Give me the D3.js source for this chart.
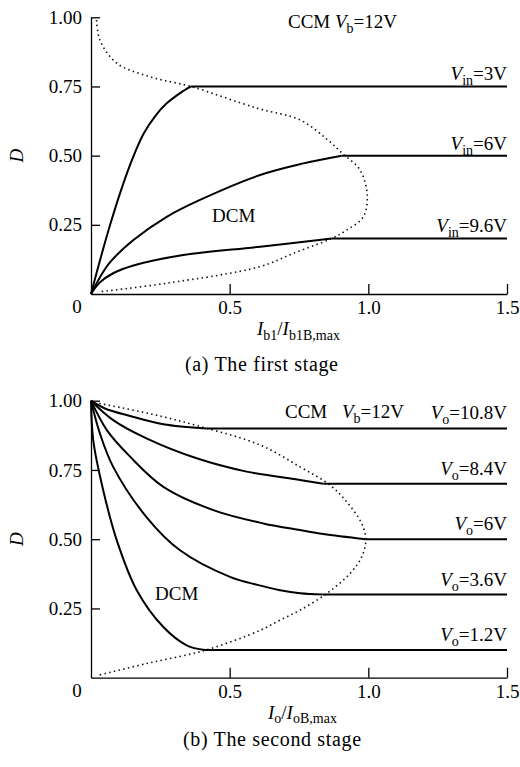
<!DOCTYPE html>
<html>
<head>
<meta charset="utf-8">
<script src="https://cdn.jsdelivr.net/npm/d3@7"></script>
<style>
body { margin: 0; background: #fff; }
svg { font-family: "Liberation Serif", "Times New Roman", serif; }
</style>
</head>
<body>
<svg id="chart" width="520" height="767"></svg>
<script>
// tick values
var xTicks = [0.5, 1.0, 1.5];
var yTicks = [0.25, 0.5, 0.75, 1.0];

// (a) first stage: D vs Ib1/Ib1B,max, curved DCM part then flat CCM level
var vin3 = [[0,0],[0.032,0.12],[0.069,0.25],[0.11,0.38],[0.15,0.49],[0.19,0.58],[0.233,0.645],[0.273,0.689],[0.32,0.725],[0.36,0.75]];
var vin6 = [[0,0],[0.032,0.06],[0.069,0.115],[0.153,0.195],[0.273,0.279],[0.393,0.34],[0.61,0.43],[0.766,0.472],[0.904,0.5]];
var vin96 = [[0,0],[0.032,0.042],[0.08,0.075],[0.153,0.103],[0.333,0.141],[0.61,0.171],[0.868,0.201]];
var vinNames = ["3V", "6V", "9.6V"];
var boundA = [[0.02,0.99],[0.032,0.918],[0.093,0.834],[0.213,0.785],[0.36,0.75],[0.6,0.671],[0.754,0.629],
              [0.85,0.56],[0.91,0.505],[0.97,0.448],[0.996,0.358],[0.982,0.279],[0.922,0.231],[0.868,0.201],
              [0.73,0.147],[0.61,0.099],[0.273,0.039],[0.03,0.008]];

// (b) second stage: D vs Io/IoB,max
var vo108 = [[0,1],[0.05,0.972],[0.141,0.945],[0.261,0.915],[0.417,0.9]];
var vo84 = [[0,1],[0.08,0.93],[0.2,0.864],[0.381,0.792],[0.561,0.744],[0.754,0.714],[0.838,0.7]];
var vo6 = [[0,1],[0.057,0.894],[0.141,0.798],[0.261,0.689],[0.441,0.605],[0.621,0.557],[0.754,0.533],[0.838,0.519],[0.991,0.5]];
var vo36 = [[0,1],[0.032,0.882],[0.08,0.761],[0.2,0.58],[0.321,0.46],[0.501,0.364],[0.6,0.335],[0.682,0.316],[0.754,0.305],[0.835,0.3]];
var vo12 = [[0,1],[0.008,0.858],[0.044,0.677],[0.093,0.496],[0.165,0.316],[0.261,0.183],[0.345,0.117],[0.411,0.1]];
var voNames = ["10.8V", "8.4V", "6V", "3.6V", "1.2V"];
var boundB = [[0.03,0.99],[0.213,0.953],[0.393,0.907],[0.61,0.84],[0.754,0.761],[0.862,0.695],[0.922,0.635],
              [0.976,0.557],[0.991,0.497],[0.976,0.436],[0.934,0.376],[0.85,0.304],[0.754,0.244],[0.682,0.208],
              [0.61,0.171],[0.411,0.099],[0.2,0.051],[0.03,0.01]];

var xMax = 1.5;

var svg = d3.select("#chart");
var x = d3.scaleLinear().domain([0, xMax]).range([91, 507]);
var yA = d3.scaleLinear().domain([0, 1]).range([294, 17.3]);
var yB = d3.scaleLinear().domain([0, 1]).range([677.7, 400.7]);

// text with italic / subscript pieces: [text, "i" | "s" | ""]
function rich(g, px, py, parts, anchor, sub) {
  sub = sub || 5;
  var t = g.append("text").attr("x", px).attr("y", py)
    .attr("text-anchor", anchor || "start").attr("font-size", 19).attr("fill", "#000");
  var shift = 0;
  parts.forEach(function(p) {
    var s = t.append("tspan").text(p[0]);
    var target = p[1] == "s" ? sub : 0;
    if (target - shift != 0) s.attr("dy", target - shift);
    shift = target;
    if (p[1] == "s") s.attr("font-size", 14);
    if (p[1] == "i") s.attr("font-style", "italic");
  });
  return t;
}

function drawPanel(y, curves, bound) {
  var g = svg.append("g");

  var ax = g.append("g").attr("transform", "translate(0," + y(0) + ")")
    .call(d3.axisBottom(x).tickValues(xTicks).tickFormat(d3.format(".1f"))
      .tickSizeInner(-10).tickSizeOuter(0).tickPadding(7));
  var ay = g.append("g").attr("transform", "translate(" + x(0) + ",0)")
    .call(d3.axisLeft(y).tickValues(yTicks).tickFormat(d3.format(".2f"))
      .tickSizeInner(-9).tickSizeOuter(0).tickPadding(9));
  [ax, ay].forEach(function(a) {
    a.attr("font-family", null).attr("font-size", 19);
    a.selectAll("path, line").attr("stroke", "#000").attr("stroke-width", 1.3);
    a.selectAll("text").attr("fill", "#000");
  });
  g.append("text").attr("x", x(0) - 14).attr("y", y(0) + 19)
    .attr("text-anchor", "middle").attr("font-size", 19).text("0");

  var smooth = d3.line().x(function(d) { return x(d[0]); }).y(function(d) { return y(d[1]); })
    .curve(d3.curveCatmullRom.alpha(0.5));
  var flatLine = d3.line().x(function(d) { return x(d[0]); }).y(function(d) { return y(d[1]); });

  g.append("path").datum(bound)
    .attr("fill", "none").attr("stroke", "#111").attr("stroke-width", 1.6)
    .attr("stroke-dasharray", "1.5,3.3")
    .attr("d", smooth);

  curves.forEach(function(c) {
    var last = c[c.length - 1];
    g.append("path").datum(c).attr("fill", "none").attr("stroke", "#000").attr("stroke-width", 2)
      .attr("d", smooth);
    g.append("path").datum([last, [xMax, last[1]]]).attr("fill", "none").attr("stroke", "#000")
      .attr("stroke-width", 2).attr("d", flatLine);
  });

  g.append("text").attr("transform", "translate(23," + y(0.5) + ") rotate(-90)")
    .attr("text-anchor", "middle").attr("font-size", 19).attr("font-style", "italic").text("D");
  return g;
}

// panel (a)
var curvesA = [vin3, vin6, vin96];
var gA = drawPanel(yA, curvesA, boundA);
curvesA.forEach(function(c, i) {
  rich(gA, x(xMax), yA(c[c.length - 1][1]) - 6, [["V", "i"], ["in", "s"], ["=" + vinNames[i], ""]], "end");
});
rich(gA, 288, 28, [["CCM ", ""], ["V", "i"], ["b", "s"], ["=12V", ""]]);
rich(gA, 212, 222, [["DCM", ""]]);
rich(gA, 257, 335, [["I", "i"], ["b1", "s"], ["/", ""], ["I", "i"], ["b1B,max", "s"]]);
rich(gA, 185, 371, [["(a) The first stage", ""]]).attr("font-size", 20).attr("letter-spacing", 0.65);

// panel (b)
var curvesB = [vo108, vo84, vo6, vo36, vo12];
var gB = drawPanel(yB, curvesB, boundB);
curvesB.forEach(function(c, i) {
  rich(gB, x(xMax), yB(c[c.length - 1][1]) - 9, [["V", "i"], ["o", "s"], ["=" + voNames[i], ""]], "end");
});
rich(gB, 285, 418, [["CCM", ""]]);
rich(gB, 342, 418, [["V", "i"], ["b", "s"], ["=12V", ""]]);
rich(gB, 155, 600, [["DCM", ""]]);
rich(gB, 268, 719, [["I", "i"], ["o", "s"], ["/", ""], ["I", "i"], ["oB,max", "s"]], "start", 4);
rich(gB, 183, 746, [["(b) The second stage", ""]]).attr("font-size", 20).attr("letter-spacing", 0.65);
</script>
</body>
</html>
